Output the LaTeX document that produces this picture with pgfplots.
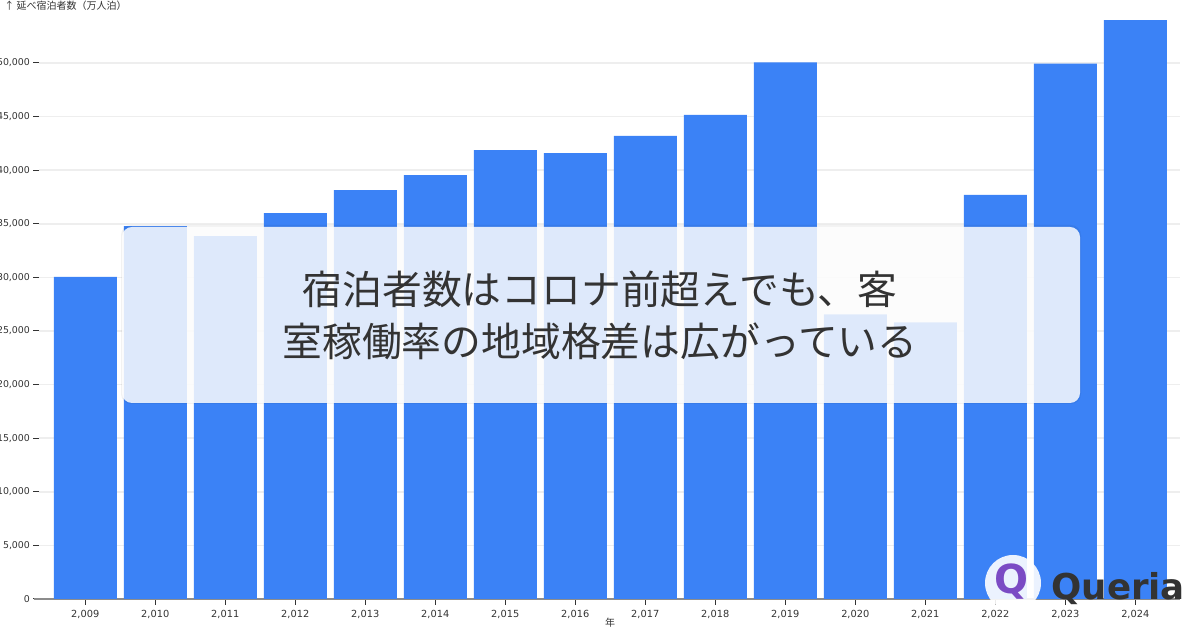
\documentclass[border=0pt]{standalone}
\usepackage{pgfplots}
\pgfplotsset{compat=1.18}
\usepackage{fontspec}
\setmainfont{DejaVu Sans}
\newfontfamily\jp{Noto Sans CJK JP}
\definecolor{barblue}{HTML}{3B82F6}
\definecolor{txt}{HTML}{333333}
\definecolor{gridc}{HTML}{EEEEEE}
\definecolor{qpurple}{HTML}{7B4BC4}
\begin{document}
\begin{tikzpicture}
\begin{axis}[
  scale only axis,
  width=570.5pt, height=289.44pt,
  at={(19.5pt,15.5pt)}, anchor=south west,
  xmin=2008.339, xmax=2024.639,
  ymin=0, ymax=54000,
  axis x line*=bottom, axis y line*=left,
  y axis line style={draw=none},
  x axis line style={draw=gray!90, line width=1pt, shorten <=-2.5pt},
  xtick=data,
  ytick={0,5000,10000,15000,20000,25000,30000,35000,40000,45000,50000},
  ymajorgrids, grid style={gridc, line width=0.75pt},
  tick align=outside,
  major tick length=3pt,
  tick style={txt, line width=0.5pt},
  /pgf/number format/assume math mode=true,
  /pgf/number format/1000 sep={,},
  scaled y ticks=false,
  ticklabel style={text=txt},
  xticklabel style={font=\fontsize{4.9}{6}\selectfont, yshift=1pt},
  yticklabel style={font=\fontsize{4.7}{6}\selectfont, xshift=2pt},
  ybar, bar width=0.9, bar shift=0pt,
  clip=false,
]
\addplot[fill=barblue, draw=none] coordinates {
 (2009,30040) (2010,34790) (2011,33860) (2012,36000) (2013,38150)
 (2014,39550) (2015,41880) (2016,41600) (2017,43190) (2018,45150)
 (2019,50050) (2020,26560) (2021,25810) (2022,37690) (2023,49930)
 (2024,54000)};
\end{axis}
% axis titles
\node[anchor=west, inner sep=0pt, text=txt, font=\jp\fontsize{5}{6}\selectfont] at (2pt,312pt) {↑ 延べ宿泊者数（万人泊）};
\node[anchor=center, inner sep=0pt, text=txt, font=\jp\fontsize{5}{6}\selectfont] at (305pt,3.5pt) {年};
% overlay box
\fill[black, opacity=0.05, rounded corners=5pt] (60.5pt,113pt) rectangle (540.5pt,202.5pt);
\fill[white, opacity=0.84, rounded corners=5pt] (61pt,113.5pt) rectangle (540pt,201.5pt);
\node[align=center, text=txt, font=\jp\fontsize{19.9}{26}\selectfont, inner sep=0pt] at (300pt,157.5pt)
 {宿泊者数はコロナ前超えでも、客\\室稼働率の地域格差は広がっている};
% logo
\fill[white, opacity=0.9] (506.5pt,23.5pt) circle (14pt);
\node[text=qpurple, font=\bfseries\fontsize{20}{20}\selectfont, inner sep=0pt] at (505.5pt,24pt) {Q};
\node[anchor=base west, text=txt, font=\bfseries\fontsize{17.8}{20}\selectfont, inner sep=0pt] at (525.5pt,15pt) {Queria};
\pgfresetboundingbox
\useasboundingbox (0,0) rectangle (600pt,315pt);
\end{tikzpicture}
\end{document}
